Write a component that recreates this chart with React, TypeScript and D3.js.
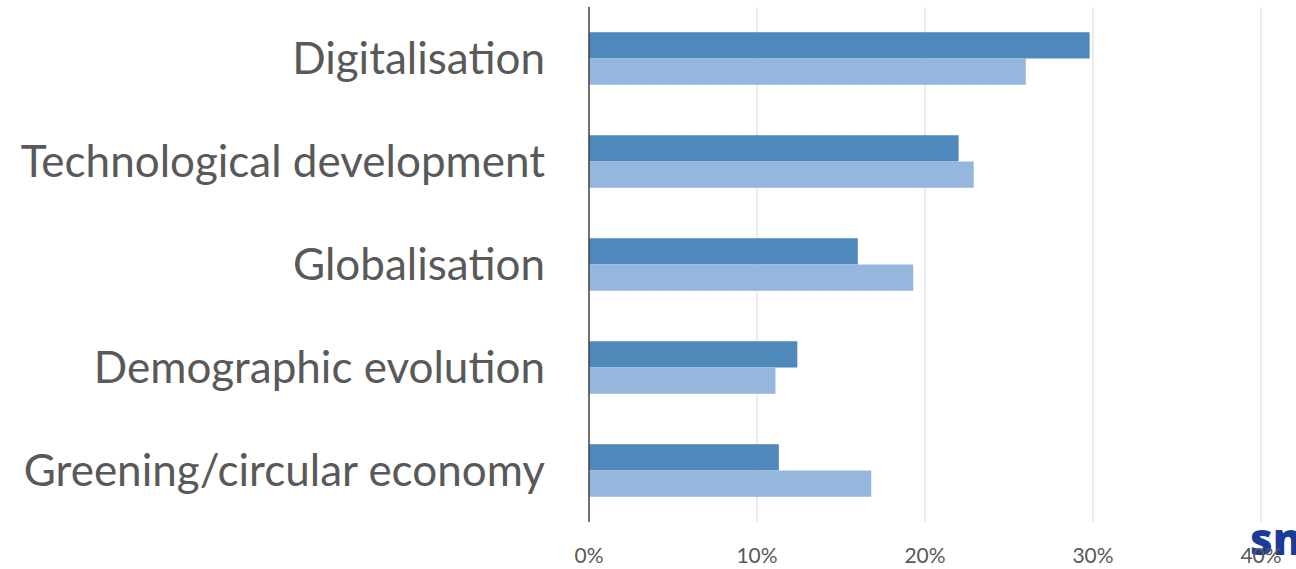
import React from "react";
import * as d3 from "d3";

const categories = [
  "Digitalisation",
  "Technological development",
  "Globalisation",
  "Demographic evolution",
  "Greening/circular economy",
];
const seriesA = [0.298, 0.22, 0.16, 0.124, 0.113];
const seriesB = [0.26, 0.229, 0.193, 0.111, 0.168];
const tickValues = [0, 0.1, 0.2, 0.3, 0.4];

export default function App() {
  const W = 1296, H = 569;
  const x = d3.scaleLinear().domain([0, 0.4]).range([589, 1261]);
  const y = d3.scaleBand<string>().domain(categories).range([7, 522]).paddingInner(0.49).paddingOuter(0.245);
  const half = y.bandwidth() / 2;
  const fmt = d3.format(".0%");
  return (
    <svg width={W} height={H} style={{ position: "absolute", left: 0, top: 0, background: "#fff" }}>
      {tickValues.slice(1).map((t) => (
        <line key={t} x1={x(t)} x2={x(t)} y1={7} y2={522} stroke="#d9d9d9" strokeWidth={1} />
      ))}
      {categories.map((c, i) => (
        <g key={c}>
          <rect x={x(0)} y={y(c)!} width={x(seriesA[i]) - x(0)} height={half} fill="#4f89bb" />
          <rect x={x(0)} y={y(c)! + half} width={x(seriesB[i]) - x(0)} height={half} fill="#95b7de" />
          <text x={545} y={y(c)! + half} dy="0.35em" textAnchor="end" fontFamily="Lato, 'Open Sans', sans-serif" fontSize={44} fill="#595959">{c}</text>
        </g>
      ))}
      <line x1={x(0)} x2={x(0)} y1={7} y2={522} stroke="#404040" strokeWidth={1.5} />
      <text x={1250} y={555} fontFamily="'Open Sans', sans-serif" fontWeight={800} fontSize={44} fill="#1b3c96">sn</text>
      {tickValues.map((t) => (
        <text key={t} x={x(t)} y={563} textAnchor="middle" fontFamily="Lato, 'Open Sans', sans-serif" fontSize={21} fill="#595959">{fmt(t)}</text>
      ))}
    </svg>
  );
}
